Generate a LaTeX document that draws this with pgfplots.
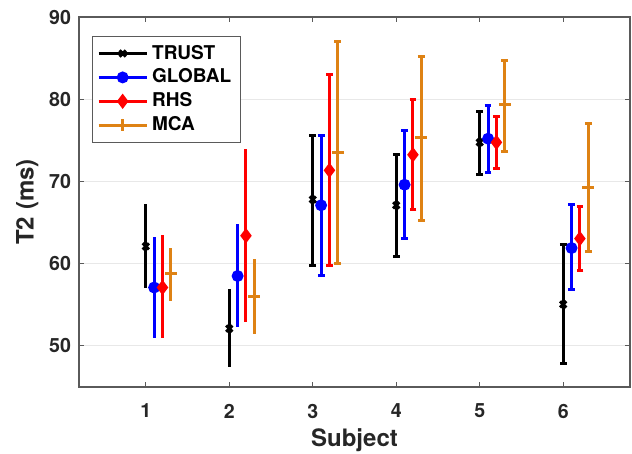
\documentclass[border=0pt]{standalone}
\usepackage{fontspec}
\setmainfont{TeX Gyre Heros}
\usepackage{pgfplots}
\usepackage{pgfplotstable}
\pgfplotsset{compat=1.18}
\definecolor{mcaorange}{RGB}{222,130,20}
\definecolor{axgray}{RGB}{90,90,90}

% subject, mean, error plus, error minus
\pgfplotstableread{
s y ep em
1 62.1 5.2 5.0
2 52.1 4.8 4.7
3 67.8 7.8 8.0
4 67.1 6.2 6.2
5 74.75 3.75 3.85
6 55.05 7.25 7.2
}\trusttab
\pgfplotstableread{
s y ep em
1 57.1 6.2 6.2
2 58.5 6.3 6.2
3 67.1 8.5 8.5
4 69.6 6.6 6.5
5 75.2 4.0 4.1
6 61.9 5.25 5.1
}\globaltab
\pgfplotstableread{
s y ep em
1 57.1 6.4 6.2
2 63.4 10.5 10.5
3 71.35 11.65 11.55
4 73.25 6.75 6.65
5 74.75 3.15 3.15
6 63.05 3.85 3.85
}\rhstab
\pgfplotstableread{
s y ep em
1 58.8 3.1 3.3
2 56.05 4.55 4.55
3 73.5 13.5 13.5
4 75.3 9.9 10.0
5 79.3 5.4 5.6
6 69.3 7.8 7.8
}\mcatab

\pgfplotsset{
  ebar/.style={
    only marks, line width=1.5pt, color=#1, mark options={fill=#1, draw=#1},
    error bars/y dir=both, error bars/y explicit,
    error bars/error bar style={line width=1.5pt, color=#1},
    error bars/error mark options={line width=1.5pt, mark size=1.7pt, rotate=90, color=#1},
  },
  nocap/.style={error bars/error mark=none},
  leg/.style={legend image code/.code={
    \draw[line width=1.5pt, #1] (0pt,0pt) -- (24pt,0pt);
    \draw[##1] plot coordinates {(12pt,0pt)};}},
}

\begin{document}
\begin{tikzpicture}
\begin{axis}[
    scale only axis,
    width=275.5pt, height=185pt,
    xmin=0.2, xmax=6.8, ymin=45, ymax=90,
    xtick={1,2,3,4,5,6}, ytick={50,60,70,80,90},
    ymajorgrids, grid style={gray!18, line width=0.5pt},
    tick align=inside, major tick length=2.5pt,
    tick pos=both,
    axis line style={axgray, line width=0.6pt},
    tick style={axgray, line width=0.6pt},
    /pgf/number format/assume math mode=true,
    tick label style={font=\bfseries\fontsize{9.8}{12}\selectfont, text=black!85},
    xticklabel style={yshift=-5pt},
    yticklabel style={xshift=-0.5pt},
    xlabel={Subject}, ylabel={T2 (ms)},
    every axis x label/.style={at={(axis description cs:0.5,-0.143)}, anchor=center,
      font=\bfseries\fontsize{12}{14}\selectfont, text=black!85},
    every axis y label/.style={at={(axis description cs:-0.094,0.5)}, rotate=90, anchor=center,
      font=\bfseries\fontsize{12}{14}\selectfont, text=black!85},
    legend style={at={(0.023,0.95)}, anchor=north west,
      font=\bfseries\fontsize{9.5}{11}\selectfont, draw=axgray, line width=0.5pt,
      inner sep=2.5pt, row sep=-0.6pt},
    legend cell align=left,
]
\addplot[ebar=black, mark=x, mark size=2.2pt, leg=black, restrict x to domain=2.5:7]
  table[x=s, y=y, y error plus=ep, y error minus=em] {\trusttab};
\addlegendentry{TRUST}
\addplot[ebar=blue, mark=*, mark size=2.2pt, leg=blue, restrict x to domain=2.5:7]
  table[x expr=\thisrow{s}+0.1, y=y, y error plus=ep, y error minus=em] {\globaltab};
\addlegendentry{GLOBAL}
\addplot[ebar=red, mark=diamond*, mark size=2.6pt, leg=red, restrict x to domain=2.5:7]
  table[x expr=\thisrow{s}+0.2, y=y, y error plus=ep, y error minus=em] {\rhstab};
\addlegendentry{RHS}
\addplot[ebar=mcaorange, mark=+, mark size=3pt, leg=mcaorange, restrict x to domain=2.5:7]
  table[x expr=\thisrow{s}+0.3, y=y, y error plus=ep, y error minus=em] {\mcatab};
\addlegendentry{MCA}
% subjects 1 and 2 are drawn without caps
\addplot[ebar=black, nocap, mark=x, mark size=2.2pt, restrict x to domain=0.5:2.5, forget plot]
  table[x=s, y=y, y error plus=ep, y error minus=em] {\trusttab};
\addplot[ebar=blue, nocap, mark=*, mark size=2.2pt, restrict x to domain=0.5:2.5, forget plot]
  table[x expr=\thisrow{s}+0.1, y=y, y error plus=ep, y error minus=em] {\globaltab};
\addplot[ebar=red, nocap, mark=diamond*, mark size=2.6pt, restrict x to domain=0.5:2.5, forget plot]
  table[x expr=\thisrow{s}+0.2, y=y, y error plus=ep, y error minus=em] {\rhstab};
\addplot[ebar=mcaorange, nocap, mark=+, mark size=3pt, restrict x to domain=0.5:2.5, forget plot]
  table[x expr=\thisrow{s}+0.3, y=y, y error plus=ep, y error minus=em] {\mcatab};
\end{axis}
% page margins as in the reference
\pgfresetboundingbox
\path[use as bounding box] ([shift={(-39.5pt,-33.5pt)}]current axis.south west)
  rectangle ([shift={(1pt,8.5pt)}]current axis.north east);
\end{tikzpicture}
\end{document}
